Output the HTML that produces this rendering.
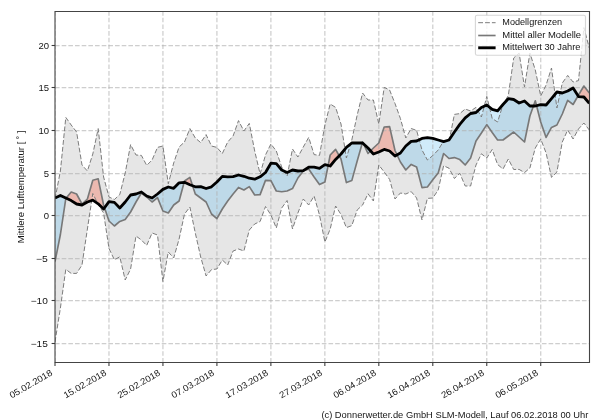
<!DOCTYPE html>
<html><head><meta charset="utf-8"><title>Chart</title>
<style>
html,body{margin:0;padding:0;background:#fff;}
body{width:600px;height:420px;overflow:hidden;font-family:"Liberation Sans",sans-serif;}
svg{display:block;will-change:transform;}
text{font-family:"Liberation Sans",sans-serif;fill:#151515;}
</style></head><body>
<svg width="600" height="420" viewBox="0 0 600 420">
<rect x="0" y="0" width="600" height="420" fill="#ffffff"/>
<defs><clipPath id="ax"><rect x="55.0" y="11.5" width="534.5" height="351.0"/></clipPath></defs>

<g clip-path="url(#ax)">
<polygon points="55.0,199.0 60.4,171.0 65.8,117.4 71.2,125.0 76.6,132.0 82.0,165.0 87.4,171.0 92.8,154.0 98.2,128.6 103.6,177.0 109.0,197.0 114.4,199.5 119.8,194.5 125.2,173.0 130.6,144.6 136.0,155.0 141.4,155.4 146.7,165.4 152.1,160.0 157.5,147.4 162.9,146.0 168.3,183.8 173.7,163.0 179.1,147.0 184.5,142.0 189.9,128.6 195.3,138.0 200.7,142.6 206.1,134.6 211.5,146.0 216.9,147.4 222.3,153.6 227.7,142.0 233.1,136.0 238.5,120.6 243.9,131.0 249.3,123.4 254.7,151.0 260.1,174.0 265.5,155.0 270.9,144.0 276.3,151.0 281.7,167.0 287.1,176.0 292.5,149.0 297.9,157.0 303.3,147.0 308.7,137.4 314.1,154.6 319.5,155.4 324.9,125.0 330.2,104.0 335.6,107.4 341.0,124.0 346.4,158.0 351.8,140.0 357.2,115.0 362.6,93.0 368.0,100.0 373.4,100.0 378.8,124.0 384.2,87.4 389.6,90.0 395.0,103.5 400.4,118.5 405.8,138.0 411.2,128.5 416.6,130.4 422.0,150.0 427.4,160.0 432.8,155.6 438.2,150.0 443.6,141.0 449.0,141.5 454.4,114.4 459.8,113.6 465.2,109.0 470.6,111.0 476.0,107.4 481.4,117.0 486.8,96.4 492.2,118.5 497.6,122.0 503.0,104.5 508.3,95.5 513.7,58.0 519.1,53.0 524.5,87.0 529.9,53.0 535.3,70.0 540.7,96.0 546.1,85.0 551.5,68.0 556.9,108.0 562.3,83.0 567.7,75.4 573.1,82.0 578.5,80.6 583.9,27.6 589.3,48.0 589.3,130.0 583.9,123.0 578.5,129.0 573.1,139.0 567.7,130.0 562.3,142.0 556.9,172.0 551.5,177.4 546.1,153.0 540.7,139.0 535.3,148.0 529.9,168.0 524.5,172.6 519.1,169.4 513.7,169.5 508.3,159.0 503.0,169.0 497.6,164.5 492.2,149.5 486.8,158.0 481.4,153.8 476.0,165.0 470.6,186.0 465.2,186.0 459.8,173.3 454.4,178.5 449.0,168.2 443.6,165.8 438.2,190.0 432.8,198.0 427.4,198.4 422.0,220.0 416.6,198.0 411.2,191.6 405.8,194.0 400.4,193.0 395.0,199.0 389.6,179.4 384.2,172.0 378.8,165.0 373.4,201.0 368.0,193.8 362.6,205.0 357.2,210.0 351.8,225.6 346.4,227.6 341.0,214.5 335.6,206.0 330.2,229.0 324.9,242.0 319.5,215.0 314.1,196.0 308.7,205.0 303.3,199.0 297.9,213.0 292.5,229.0 287.1,200.5 281.7,208.0 276.3,228.0 270.9,215.0 265.5,206.5 260.1,221.5 254.7,224.0 249.3,230.0 243.9,251.0 238.5,249.0 233.1,251.0 227.7,265.0 222.3,260.0 216.9,269.0 211.5,269.6 206.1,276.0 200.7,257.0 195.3,233.0 189.9,207.0 184.5,214.0 179.1,239.0 173.7,258.0 168.3,252.0 162.9,281.5 157.5,235.0 152.1,233.0 146.7,245.4 141.4,240.0 136.0,236.0 130.6,269.0 125.2,280.0 119.8,256.8 114.4,259.8 109.0,248.5 103.6,213.0 98.2,204.5 92.8,193.5 87.4,229.0 82.0,265.0 76.6,273.4 71.2,273.4 65.8,269.4 60.4,308.0 55.0,342.0" fill="#808080" fill-opacity="0.2"/>
<polygon points="55.00,261.60 60.40,234.50 65.79,198.60 66.15,198.17 66.15,198.17 65.79,198.00 60.40,195.40 55.00,198.00" fill="#64beee" fill-opacity="0.3"/>
<polygon points="104.50,207.74 108.97,221.00 114.37,226.00 119.76,221.40 125.16,219.40 130.56,212.00 135.95,202.00 141.35,193.00 146.75,197.00 152.15,202.00 157.54,197.60 162.94,211.00 168.34,213.00 173.73,205.00 179.13,201.00 184.17,182.33 184.17,182.33 179.13,182.80 173.73,188.30 168.34,187.00 162.94,189.40 157.54,194.00 152.15,198.00 146.75,196.00 141.35,192.00 135.95,194.00 130.56,195.00 125.16,202.00 119.76,208.00 114.37,202.40 108.97,201.60 104.50,207.74" fill="#64beee" fill-opacity="0.3"/>
<polygon points="192.66,185.81 195.32,194.00 200.72,198.00 206.12,202.00 211.51,214.00 216.91,218.60 222.31,209.00 227.70,201.00 233.10,194.00 238.50,187.40 243.90,190.00 249.29,186.60 254.69,195.00 260.09,194.60 265.48,180.40 270.88,180.60 276.28,191.00 281.67,191.70 287.07,191.00 292.47,188.60 297.87,178.00 303.26,171.00 308.66,169.00 314.06,177.00 319.45,184.60 324.85,182.00 328.16,165.46 328.16,165.46 324.85,164.60 319.45,168.30 314.06,167.20 308.66,167.20 303.26,170.60 297.87,171.00 292.47,170.00 287.07,172.60 281.67,170.00 276.28,163.70 270.88,163.20 265.48,172.50 260.09,176.80 254.69,179.20 249.29,178.20 243.90,176.30 238.50,175.00 233.10,176.60 227.70,176.80 222.31,176.40 216.91,182.00 211.51,186.80 206.12,188.50 200.72,186.60 195.32,186.80 192.66,185.81" fill="#64beee" fill-opacity="0.3"/>
<polygon points="339.24,155.80 341.04,159.00 346.44,182.60 351.84,180.60 357.23,161.00 362.34,143.00 362.34,143.00 357.23,143.00 351.84,143.00 346.44,147.40 341.04,154.00 339.24,155.80" fill="#64beee" fill-opacity="0.3"/>
<polygon points="363.46,143.77 368.03,153.50 370.61,150.87 370.61,150.87 368.03,148.00 363.46,143.77" fill="#64beee" fill-opacity="0.3"/>
<polygon points="397.06,154.86 400.41,162.00 405.81,170.00 411.20,164.40 416.60,167.00 422.00,187.60 427.39,187.00 432.79,179.80 438.19,173.00 443.58,153.50 448.98,158.50 454.38,157.60 459.78,159.60 465.17,165.00 470.57,158.00 475.97,141.00 481.36,133.00 486.76,124.60 492.16,132.50 497.55,140.00 502.95,140.00 508.35,136.00 513.75,132.00 519.14,137.00 524.54,142.00 529.94,116.00 533.49,106.00 533.49,106.00 529.94,106.00 524.54,101.00 519.14,103.00 513.75,99.50 508.35,98.70 502.95,104.50 497.55,110.90 492.16,109.40 486.76,105.00 481.36,107.50 475.97,112.50 470.57,113.50 465.17,117.75 459.78,124.40 454.38,132.00 448.98,140.00 443.58,141.60 438.19,140.00 432.79,138.40 427.39,137.60 422.00,138.40 416.60,141.00 411.20,141.40 405.81,146.00 400.41,153.00 397.06,154.86" fill="#64beee" fill-opacity="0.3"/>
<polygon points="536.57,105.68 540.73,122.00 546.13,137.40 551.52,127.40 556.92,125.00 562.32,114.00 567.72,100.30 573.11,104.50 578.03,95.84 578.03,95.84 573.11,88.00 567.72,91.00 562.32,93.00 556.92,92.00 551.52,98.60 546.13,105.00 540.73,104.60 536.57,105.68" fill="#64beee" fill-opacity="0.3"/>
<polygon points="66.15,198.17 71.19,192.00 76.59,194.00 81.98,204.00 87.38,199.00 92.78,180.30 98.18,178.80 103.57,205.00 104.50,207.74 104.50,207.74 103.57,209.00 98.18,203.80 92.78,200.20 87.38,202.00 81.98,205.00 76.59,204.00 71.19,200.60 66.15,198.17" fill="#f5826e" fill-opacity="0.45"/>
<polygon points="184.17,182.33 184.53,181.00 189.93,177.40 192.66,185.81 192.66,185.81 189.93,184.80 184.53,182.30 184.17,182.33" fill="#f5826e" fill-opacity="0.45"/>
<polygon points="328.16,165.46 330.25,155.00 335.64,149.40 339.24,155.80 339.24,155.80 335.64,159.40 330.25,166.00 328.16,165.46" fill="#f5826e" fill-opacity="0.45"/>
<polygon points="362.34,143.00 362.63,142.00 363.46,143.77 363.46,143.77 362.63,143.00 362.34,143.00" fill="#f5826e" fill-opacity="0.45"/>
<polygon points="370.61,150.87 373.42,148.00 378.82,143.00 384.22,127.00 389.61,126.60 395.01,150.50 397.06,154.86 397.06,154.86 395.01,156.00 389.61,151.00 384.22,149.40 378.82,152.00 373.42,154.00 370.61,150.87" fill="#f5826e" fill-opacity="0.45"/>
<polygon points="533.49,106.00 535.33,100.80 536.57,105.68 536.57,105.68 535.33,106.00 533.49,106.00" fill="#f5826e" fill-opacity="0.45"/>
<polygon points="578.03,95.84 578.51,95.00 583.91,86.00 589.30,93.00 589.30,103.40 583.91,97.00 578.51,96.60 578.03,95.84" fill="#f5826e" fill-opacity="0.45"/>
<line x1="55.0" y1="45.5" x2="589.5" y2="45.5" stroke="#b0b0b0" stroke-opacity="0.62" stroke-width="1.25" stroke-dasharray="4.62 2.05"/>
<line x1="55.0" y1="87.5" x2="589.5" y2="87.5" stroke="#b0b0b0" stroke-opacity="0.62" stroke-width="1.25" stroke-dasharray="4.62 2.05"/>
<line x1="55.0" y1="130.5" x2="589.5" y2="130.5" stroke="#b0b0b0" stroke-opacity="0.62" stroke-width="1.25" stroke-dasharray="4.62 2.05"/>
<line x1="55.0" y1="173.5" x2="589.5" y2="173.5" stroke="#b0b0b0" stroke-opacity="0.62" stroke-width="1.25" stroke-dasharray="4.62 2.05"/>
<line x1="55.0" y1="215.5" x2="589.5" y2="215.5" stroke="#b0b0b0" stroke-opacity="0.62" stroke-width="1.25" stroke-dasharray="4.62 2.05"/>
<line x1="55.0" y1="258.5" x2="589.5" y2="258.5" stroke="#b0b0b0" stroke-opacity="0.62" stroke-width="1.25" stroke-dasharray="4.62 2.05"/>
<line x1="55.0" y1="300.5" x2="589.5" y2="300.5" stroke="#b0b0b0" stroke-opacity="0.62" stroke-width="1.25" stroke-dasharray="4.62 2.05"/>
<line x1="55.0" y1="343.5" x2="589.5" y2="343.5" stroke="#b0b0b0" stroke-opacity="0.62" stroke-width="1.25" stroke-dasharray="4.62 2.05"/>
<line x1="55.0" y1="362.5" x2="55.0" y2="11.5" stroke="#b0b0b0" stroke-opacity="0.62" stroke-width="1.25" stroke-dasharray="4.62 2.05"/>
<line x1="108.97" y1="362.5" x2="108.97" y2="11.5" stroke="#b0b0b0" stroke-opacity="0.62" stroke-width="1.25" stroke-dasharray="4.62 2.05"/>
<line x1="162.94" y1="362.5" x2="162.94" y2="11.5" stroke="#b0b0b0" stroke-opacity="0.62" stroke-width="1.25" stroke-dasharray="4.62 2.05"/>
<line x1="216.91" y1="362.5" x2="216.91" y2="11.5" stroke="#b0b0b0" stroke-opacity="0.62" stroke-width="1.25" stroke-dasharray="4.62 2.05"/>
<line x1="270.88" y1="362.5" x2="270.88" y2="11.5" stroke="#b0b0b0" stroke-opacity="0.62" stroke-width="1.25" stroke-dasharray="4.62 2.05"/>
<line x1="324.85" y1="362.5" x2="324.85" y2="11.5" stroke="#b0b0b0" stroke-opacity="0.62" stroke-width="1.25" stroke-dasharray="4.62 2.05"/>
<line x1="378.82" y1="362.5" x2="378.82" y2="11.5" stroke="#b0b0b0" stroke-opacity="0.62" stroke-width="1.25" stroke-dasharray="4.62 2.05"/>
<line x1="432.78999999999996" y1="362.5" x2="432.78999999999996" y2="11.5" stroke="#b0b0b0" stroke-opacity="0.62" stroke-width="1.25" stroke-dasharray="4.62 2.05"/>
<line x1="486.76" y1="362.5" x2="486.76" y2="11.5" stroke="#b0b0b0" stroke-opacity="0.62" stroke-width="1.25" stroke-dasharray="4.62 2.05"/>
<line x1="540.73" y1="362.5" x2="540.73" y2="11.5" stroke="#b0b0b0" stroke-opacity="0.62" stroke-width="1.25" stroke-dasharray="4.62 2.05"/>
<polyline points="55.0,199.0 60.4,171.0 65.8,117.4 71.2,125.0 76.6,132.0 82.0,165.0 87.4,171.0 92.8,154.0 98.2,128.6 103.6,177.0 109.0,197.0 114.4,199.5 119.8,194.5 125.2,173.0 130.6,144.6 136.0,155.0 141.4,155.4 146.7,165.4 152.1,160.0 157.5,147.4 162.9,146.0 168.3,183.8 173.7,163.0 179.1,147.0 184.5,142.0 189.9,128.6 195.3,138.0 200.7,142.6 206.1,134.6 211.5,146.0 216.9,147.4 222.3,153.6 227.7,142.0 233.1,136.0 238.5,120.6 243.9,131.0 249.3,123.4 254.7,151.0 260.1,174.0 265.5,155.0 270.9,144.0 276.3,151.0 281.7,167.0 287.1,176.0 292.5,149.0 297.9,157.0 303.3,147.0 308.7,137.4 314.1,154.6 319.5,155.4 324.9,125.0 330.2,104.0 335.6,107.4 341.0,124.0 346.4,158.0 351.8,140.0 357.2,115.0 362.6,93.0 368.0,100.0 373.4,100.0 378.8,124.0 384.2,87.4 389.6,90.0 395.0,103.5 400.4,118.5 405.8,138.0 411.2,128.5 416.6,130.4 422.0,150.0 427.4,160.0 432.8,155.6 438.2,150.0 443.6,141.0 449.0,141.5 454.4,114.4 459.8,113.6 465.2,109.0 470.6,111.0 476.0,107.4 481.4,117.0 486.8,96.4 492.2,118.5 497.6,122.0 503.0,104.5 508.3,95.5 513.7,58.0 519.1,53.0 524.5,87.0 529.9,53.0 535.3,70.0 540.7,96.0 546.1,85.0 551.5,68.0 556.9,108.0 562.3,83.0 567.7,75.4 573.1,82.0 578.5,80.6 583.9,27.6 589.3,48.0" fill="none" stroke="#7c7c7c" stroke-width="1.0" stroke-dasharray="4.8 2.05"/>
<polyline points="55.0,342.0 60.4,308.0 65.8,269.4 71.2,273.4 76.6,273.4 82.0,265.0 87.4,229.0 92.8,193.5 98.2,204.5 103.6,213.0 109.0,248.5 114.4,259.8 119.8,256.8 125.2,280.0 130.6,269.0 136.0,236.0 141.4,240.0 146.7,245.4 152.1,233.0 157.5,235.0 162.9,281.5 168.3,252.0 173.7,258.0 179.1,239.0 184.5,214.0 189.9,207.0 195.3,233.0 200.7,257.0 206.1,276.0 211.5,269.6 216.9,269.0 222.3,260.0 227.7,265.0 233.1,251.0 238.5,249.0 243.9,251.0 249.3,230.0 254.7,224.0 260.1,221.5 265.5,206.5 270.9,215.0 276.3,228.0 281.7,208.0 287.1,200.5 292.5,229.0 297.9,213.0 303.3,199.0 308.7,205.0 314.1,196.0 319.5,215.0 324.9,242.0 330.2,229.0 335.6,206.0 341.0,214.5 346.4,227.6 351.8,225.6 357.2,210.0 362.6,205.0 368.0,193.8 373.4,201.0 378.8,165.0 384.2,172.0 389.6,179.4 395.0,199.0 400.4,193.0 405.8,194.0 411.2,191.6 416.6,198.0 422.0,220.0 427.4,198.4 432.8,198.0 438.2,190.0 443.6,165.8 449.0,168.2 454.4,178.5 459.8,173.3 465.2,186.0 470.6,186.0 476.0,165.0 481.4,153.8 486.8,158.0 492.2,149.5 497.6,164.5 503.0,169.0 508.3,159.0 513.7,169.5 519.1,169.4 524.5,172.6 529.9,168.0 535.3,148.0 540.7,139.0 546.1,153.0 551.5,177.4 556.9,172.0 562.3,142.0 567.7,130.0 573.1,139.0 578.5,129.0 583.9,123.0 589.3,130.0" fill="none" stroke="#7c7c7c" stroke-width="1.0" stroke-dasharray="4.8 2.05"/>
<polyline points="55.0,261.6 60.4,234.5 65.8,198.6 71.2,192.0 76.6,194.0 82.0,204.0 87.4,199.0 92.8,180.3 98.2,178.8 103.6,205.0 109.0,221.0 114.4,226.0 119.8,221.4 125.2,219.4 130.6,212.0 136.0,202.0 141.4,193.0 146.7,197.0 152.1,202.0 157.5,197.6 162.9,211.0 168.3,213.0 173.7,205.0 179.1,201.0 184.5,181.0 189.9,177.4 195.3,194.0 200.7,198.0 206.1,202.0 211.5,214.0 216.9,218.6 222.3,209.0 227.7,201.0 233.1,194.0 238.5,187.4 243.9,190.0 249.3,186.6 254.7,195.0 260.1,194.6 265.5,180.4 270.9,180.6 276.3,191.0 281.7,191.7 287.1,191.0 292.5,188.6 297.9,178.0 303.3,171.0 308.7,169.0 314.1,177.0 319.5,184.6 324.9,182.0 330.2,155.0 335.6,149.4 341.0,159.0 346.4,182.6 351.8,180.6 357.2,161.0 362.6,142.0 368.0,153.5 373.4,148.0 378.8,143.0 384.2,127.0 389.6,126.6 395.0,150.5 400.4,162.0 405.8,170.0 411.2,164.4 416.6,167.0 422.0,187.6 427.4,187.0 432.8,179.8 438.2,173.0 443.6,153.5 449.0,158.5 454.4,157.6 459.8,159.6 465.2,165.0 470.6,158.0 476.0,141.0 481.4,133.0 486.8,124.6 492.2,132.5 497.6,140.0 503.0,140.0 508.3,136.0 513.7,132.0 519.1,137.0 524.5,142.0 529.9,116.0 535.3,100.8 540.7,122.0 546.1,137.4 551.5,127.4 556.9,125.0 562.3,114.0 567.7,100.3 573.1,104.5 578.5,95.0 583.9,86.0 589.3,93.0" fill="none" stroke="#787878" stroke-width="1.65" stroke-linejoin="round" stroke-linecap="butt"/>
<polyline points="55.0,198.0 60.4,195.4 65.8,198.0 71.2,200.6 76.6,204.0 82.0,205.0 87.4,202.0 92.8,200.2 98.2,203.8 103.6,209.0 109.0,201.6 114.4,202.4 119.8,208.0 125.2,202.0 130.6,195.0 136.0,194.0 141.4,192.0 146.7,196.0 152.1,198.0 157.5,194.0 162.9,189.4 168.3,187.0 173.7,188.3 179.1,182.8 184.5,182.3 189.9,184.8 195.3,186.8 200.7,186.6 206.1,188.5 211.5,186.8 216.9,182.0 222.3,176.4 227.7,176.8 233.1,176.6 238.5,175.0 243.9,176.3 249.3,178.2 254.7,179.2 260.1,176.8 265.5,172.5 270.9,163.2 276.3,163.7 281.7,170.0 287.1,172.6 292.5,170.0 297.9,171.0 303.3,170.6 308.7,167.2 314.1,167.2 319.5,168.3 324.9,164.6 330.2,166.0 335.6,159.4 341.0,154.0 346.4,147.4 351.8,143.0 357.2,143.0 362.6,143.0 368.0,148.0 373.4,154.0 378.8,152.0 384.2,149.4 389.6,151.0 395.0,156.0 400.4,153.0 405.8,146.0 411.2,141.4 416.6,141.0 422.0,138.4 427.4,137.6 432.8,138.4 438.2,140.0 443.6,141.6 449.0,140.0 454.4,132.0 459.8,124.4 465.2,117.8 470.6,113.5 476.0,112.5 481.4,107.5 486.8,105.0 492.2,109.4 497.6,110.9 503.0,104.5 508.3,98.7 513.7,99.5 519.1,103.0 524.5,101.0 529.9,106.0 535.3,106.0 540.7,104.6 546.1,105.0 551.5,98.6 556.9,92.0 562.3,93.0 567.7,91.0 573.1,88.0 578.5,96.6 583.9,97.0 589.3,103.4" fill="none" stroke="#000000" stroke-width="2.8" stroke-linejoin="round" stroke-linecap="butt"/>
</g>
<path d="M55.0,363.05 V10.95 M589.5,363.05 V10.95 M54.45,11.5 H590.05 M54.45,362.5 H590.05" fill="none" stroke="#444" stroke-width="1.1"/>
<line x1="51.6" y1="45.5" x2="55.0" y2="45.5" stroke="#3c3c3c" stroke-width="1.1"/>
<text x="49.1" y="49.0" font-size="9" text-anchor="end" textLength="10.6" lengthAdjust="spacingAndGlyphs">20</text>
<line x1="51.6" y1="87.5" x2="55.0" y2="87.5" stroke="#3c3c3c" stroke-width="1.1"/>
<text x="49.1" y="91.0" font-size="9" text-anchor="end" textLength="10.6" lengthAdjust="spacingAndGlyphs">15</text>
<line x1="51.6" y1="130.5" x2="55.0" y2="130.5" stroke="#3c3c3c" stroke-width="1.1"/>
<text x="49.1" y="134.0" font-size="9" text-anchor="end" textLength="10.6" lengthAdjust="spacingAndGlyphs">10</text>
<line x1="51.6" y1="173.5" x2="55.0" y2="173.5" stroke="#3c3c3c" stroke-width="1.1"/>
<text x="49.1" y="177.0" font-size="9" text-anchor="end" textLength="5.3" lengthAdjust="spacingAndGlyphs">5</text>
<line x1="51.6" y1="215.5" x2="55.0" y2="215.5" stroke="#3c3c3c" stroke-width="1.1"/>
<text x="49.1" y="219.0" font-size="9" text-anchor="end" textLength="5.3" lengthAdjust="spacingAndGlyphs">0</text>
<line x1="51.6" y1="258.5" x2="55.0" y2="258.5" stroke="#3c3c3c" stroke-width="1.1"/>
<text x="47.9" y="262.0" font-size="9" text-anchor="end" textLength="11.9" lengthAdjust="spacingAndGlyphs">−5</text>
<line x1="51.6" y1="300.5" x2="55.0" y2="300.5" stroke="#3c3c3c" stroke-width="1.1"/>
<text x="47.9" y="304.0" font-size="9" text-anchor="end" textLength="17.2" lengthAdjust="spacingAndGlyphs">−10</text>
<line x1="51.6" y1="343.5" x2="55.0" y2="343.5" stroke="#3c3c3c" stroke-width="1.1"/>
<text x="47.9" y="347.0" font-size="9" text-anchor="end" textLength="17.2" lengthAdjust="spacingAndGlyphs">−15</text>
<line x1="55.0" y1="362.5" x2="55.0" y2="365.9" stroke="#3c3c3c" stroke-width="1.1"/>
<text transform="translate(53.0,374.7) rotate(-30)" font-size="9" text-anchor="end" textLength="47.7" lengthAdjust="spacingAndGlyphs">05.02.2018</text>
<line x1="108.97" y1="362.5" x2="108.97" y2="365.9" stroke="#3c3c3c" stroke-width="1.1"/>
<text transform="translate(106.97,374.7) rotate(-30)" font-size="9" text-anchor="end" textLength="47.7" lengthAdjust="spacingAndGlyphs">15.02.2018</text>
<line x1="162.94" y1="362.5" x2="162.94" y2="365.9" stroke="#3c3c3c" stroke-width="1.1"/>
<text transform="translate(160.94,374.7) rotate(-30)" font-size="9" text-anchor="end" textLength="47.7" lengthAdjust="spacingAndGlyphs">25.02.2018</text>
<line x1="216.91" y1="362.5" x2="216.91" y2="365.9" stroke="#3c3c3c" stroke-width="1.1"/>
<text transform="translate(214.91,374.7) rotate(-30)" font-size="9" text-anchor="end" textLength="47.7" lengthAdjust="spacingAndGlyphs">07.03.2018</text>
<line x1="270.88" y1="362.5" x2="270.88" y2="365.9" stroke="#3c3c3c" stroke-width="1.1"/>
<text transform="translate(268.88,374.7) rotate(-30)" font-size="9" text-anchor="end" textLength="47.7" lengthAdjust="spacingAndGlyphs">17.03.2018</text>
<line x1="324.85" y1="362.5" x2="324.85" y2="365.9" stroke="#3c3c3c" stroke-width="1.1"/>
<text transform="translate(322.85,374.7) rotate(-30)" font-size="9" text-anchor="end" textLength="47.7" lengthAdjust="spacingAndGlyphs">27.03.2018</text>
<line x1="378.82" y1="362.5" x2="378.82" y2="365.9" stroke="#3c3c3c" stroke-width="1.1"/>
<text transform="translate(376.82,374.7) rotate(-30)" font-size="9" text-anchor="end" textLength="47.7" lengthAdjust="spacingAndGlyphs">06.04.2018</text>
<line x1="432.78999999999996" y1="362.5" x2="432.78999999999996" y2="365.9" stroke="#3c3c3c" stroke-width="1.1"/>
<text transform="translate(430.78999999999996,374.7) rotate(-30)" font-size="9" text-anchor="end" textLength="47.7" lengthAdjust="spacingAndGlyphs">16.04.2018</text>
<line x1="486.76" y1="362.5" x2="486.76" y2="365.9" stroke="#3c3c3c" stroke-width="1.1"/>
<text transform="translate(484.76,374.7) rotate(-30)" font-size="9" text-anchor="end" textLength="47.7" lengthAdjust="spacingAndGlyphs">26.04.2018</text>
<line x1="540.73" y1="362.5" x2="540.73" y2="365.9" stroke="#3c3c3c" stroke-width="1.1"/>
<text transform="translate(538.73,374.7) rotate(-30)" font-size="9" text-anchor="end" textLength="47.7" lengthAdjust="spacingAndGlyphs">06.05.2018</text>
<text transform="translate(23.6,186.9) rotate(-90)" font-size="9" text-anchor="middle" textLength="112.7" lengthAdjust="spacingAndGlyphs">Mittlere Lufttemperatur [ ˚ ]</text>
<text x="588.4" y="418.1" font-size="9" text-anchor="end" textLength="267" lengthAdjust="spacingAndGlyphs">(c) Donnerwetter.de GmbH SLM-Modell, Lauf 06.02.2018 00 Uhr</text>
<rect x="475.4" y="15.2" width="110.1" height="40" rx="1.8" ry="1.8" fill="#ffffff" fill-opacity="0.8" stroke="#cccccc" stroke-opacity="0.8" stroke-width="1.1"/>
<line x1="478.2" y1="22.7" x2="495.6" y2="22.7" stroke="#7c7c7c" stroke-width="1.0" stroke-dasharray="4.8 2.05"/>
<line x1="478.2" y1="35.5" x2="495.6" y2="35.5" stroke="#787878" stroke-width="1.65"/>
<line x1="478.2" y1="47.8" x2="495.6" y2="47.8" stroke="#000" stroke-width="2.9"/>
<text x="502.3" y="25.0" font-size="9" textLength="59.8" lengthAdjust="spacingAndGlyphs">Modellgrenzen</text>
<text x="502.3" y="37.6" font-size="9" textLength="78.8" lengthAdjust="spacingAndGlyphs">Mittel aller Modelle</text>
<text x="502.3" y="50.1" font-size="9" textLength="78.2" lengthAdjust="spacingAndGlyphs">Mittelwert 30 Jahre</text>
</svg></body></html>
